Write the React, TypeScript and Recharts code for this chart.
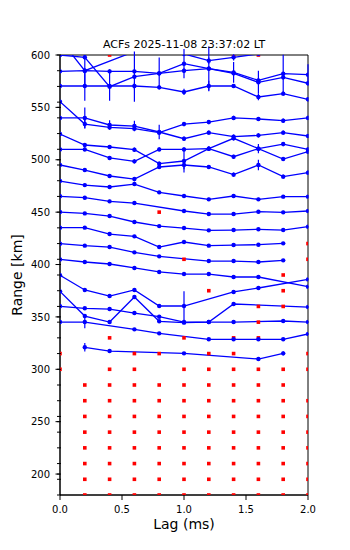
import React from 'react';
import { ComposedChart, Line, Scatter, XAxis, YAxis, ErrorBar, ReferenceArea } from 'recharts';

// ---------- data ----------
const lags = [0, 0.2, 0.4, 0.6, 0.8, 1.0, 1.2, 1.4, 1.6, 1.8, 2.0];
const xTicks = [0, 0.5, 1.0, 1.5, 2.0];
const yMajorTicks = [200, 250, 300, 350, 400, 450, 500, 550, 600];
const gates = [180, 195, 210, 225, 240, 255, 270, 285, 300, 315, 330, 345, 360, 375, 390, 405, 420, 435, 450, 465, 480, 495, 510, 525, 540, 555, 570, 585, 600];

// ACF curves drawn as range offsets (km), one per range gate
const acf600 = [615, 585.0, null, 603.3, 612, 601, 594.6, 597.8, 601, 605, 604];
const acf585 = [600, 597.8, 569.8, 579.3, 582.5, 591.7, 587.0, 583.4, 575.8, 582.2, 581.2];
const acf570 = [584.4, 585.0, 584.4, 584.4, 582.5, 585.0, 587.0, 582.5, 573.9, 578.7, 573.0];
const acf555 = [570.4, 570.4, 570.4, 570.4, 569.1, 564.7, 570.4, 570.4, 559.9, 563.1, 557.7];
const acf540 = [555.4, 534.1, 530.9, 529.7, 525.9, 534.1, 536.0, 539.9, 538.9, 537.3, 539.9];
const acf525 = [539.9, 539.9, 533.2, 532.2, 526.5, 520.1, 525.9, 522.0, 523.3, 525.9, 522.7];
const acf510 = [524.6, 514.1, 512.2, 509.6, 496.3, 498.8, 510.6, 520.5, 510.6, 515.0, 509.9];
const acf495 = [509.9, 509.9, 501.7, 498.5, 509.9, 509.9, 510.6, 502.9, 510.6, 500.7, 507.7];
const acf480 = [495.0, 490.2, 484.5, 481.6, 493.1, 495.0, 493.1, 485.8, 495.0, 483.9, 487.7];
const acf465 = [479.7, 475.8, 474.0, 476.8, 468.9, 465.4, 462.2, 465.4, 462.2, 464.8, 464.8];
const acf450 = [465.1, 463.8, 460.3, 458.7, null, 451.1, 448.2, 448.2, 450.4, 449.8, 451.1];
const acf435 = [450.1, 448.8, 446.3, 440.6, 436.7, 434.8, 432.6, 432.9, 433.6, 432.9, 436.1];
const acf420 = [435.2, 435.2, 429.1, 426.9, 416.7, 421.5, 418.0, 418.6, 418.9, 420.2, null];
const acf405 = [419.9, 418.0, 416.7, 411.6, 407.8, null, 403.3, 403.3, 402.4, 404.0, null];
const acf390 = [404.9, 402.4, 400.5, 396.7, 392.9, 390.9, 390.9, 388.1, 388.1, null, 378.8];
const acf375 = [389.7, 375.7, 369.9, 375.7, 360.4, 360.4, null, 373.8, 377.6, null, 385.8];
const acf360 = [374.4, 350.8, 345.1, 369.0, 345.8, 344.5, 345.1, 362.3, null, null, 359.4];
const acf345 = [360.1, 358.2, 357.5, 353.7, 350.2, 345.1, 345.1, 345.1, null, 346.1, 345.1];
const acf330 = [345.1, 345.1, null, 338.1, 334.3, null, 328.6, 328.6, 328.6, 328.6, 333.7];
const acf315 = [null, 321.0, 317.4, null, null, 315.2, null, null, 309.8, 315.2, null];

// error bars (km, +/-)
const err600 = [0, 15, 0, 0, 0, 0, 3, 3, 0, 0, 0];
const err585 = [0, 2, 2, 24, 15, 14, 2, 10, 2, 18, 10];
const err570 = [0, 2, 2, 2, 2, 2, 21, 2, 11, 2, 2];
const err555 = [0, 14, 14, 3, 2, 3, 5, 2, 3, 2, 2];
const err540 = [0, 4, 2, 2, 2, 2, 2, 2, 2, 2, 2];
const err525 = [0, 10, 4.5, 5, 7, 2, 2, 2, 2, 2, 2];
const err510 = [0, 2, 2, 2, 2, 11, 2, 2, 4.5, 2, 2];
const err495 = [0, 2, 2, 2, 2, 2, 2, 2, 2, 2, 2];
const err480 = [0, 2, 2, 2, 2, 4, 2, 2, 5, 2, 2];
const err465 = [0, 1.5, 1.5, 1.5, 1.5, 1.5, 1.5, 1.5, 1.5, 1.5, 1.5];
const err450 = [0, 1.5, 1.5, 1.5, 0, 1.5, 1.5, 1.5, 1.5, 1.5, 1.5];
const err435 = [0, 1, 1, 1, 1, 1, 1, 1, 1, 1, 1];
const err420 = [0, 1, 1, 1, 1, 1, 1, 1, 1, 1, 0];
const err405 = [0, 1, 1, 1, 1, 0, 1, 1, 1, 1, 0];
const err390 = [0, 1, 1, 1, 1, 1, 1, 1, 1, 0, 1];
const err375 = [0, 1, 1, 1, 1, 14, 0, 1, 1, 0, 1];
const err360 = [0, 1, 1, 2, 1, 1, 1, 1, 0, 0, 1];
const err345 = [0, 1, 1, 1, 1, 1, 1, 1, 0, 1, 1];
const err330 = [0, 6, 0, 1, 1, 0, 1, 1, 1, 1, 1];
const err315 = [0, 4, 1, 0, 0, 1, 0, 0, 1, 2, 0];

// noise-level (rejected) points, drawn at the gate range: lags per gate
const noise600 = [0.4, 1.4, 1.6];
const noise450 = [0.8];
const noise420 = [2.0];
const noise405 = [1.0, 2.0];
const noise390 = [1.8];
const noise375 = [1.2, 1.8];
const noise360 = [1.6, 1.8];
const noise345 = [1.6];
const noise330 = [0.4, 1.0, 1.4, 1.6];
const noise315 = [0, 0.6, 0.8, 1.2, 1.4, 2.0];
const noise300 = [0, 0.4, 0.6, 1.0, 1.2, 1.4, 1.6, 1.8, 2.0];
const noise285 = [0.2, 0.4, 0.6, 0.8, 1.0, 1.2, 1.4, 1.6, 1.8];
const noise270 = [0.2, 0.4, 0.6, 0.8, 1.0, 1.2, 1.4, 1.6, 1.8, 2.0];
const noise255 = [0.2, 0.4, 0.6, 0.8, 1.0, 1.2, 1.4, 1.6, 1.8, 2.0];
const noise240 = [0.2, 0.4, 0.6, 0.8, 1.0, 1.2, 1.4, 1.6, 1.8, 2.0];
const noise225 = [0.2, 0.4, 0.6, 0.8, 1.0, 1.2, 1.4, 1.6, 1.8, 2.0];
const noise210 = [0.2, 0.4, 0.6, 0.8, 1.0, 1.2, 1.4, 1.6, 1.8, 2.0];
const noise195 = [0.2, 0.4, 0.6, 0.8, 1.0, 1.2, 1.4, 1.6, 1.8, 2.0];
const noise180 = [0.2, 0.4, 0.6, 0.8, 1.0, 1.2, 1.4, 1.6, 1.8, 2.0];

// ---------- assembly ----------
const series = [
  { gate: 600, acf: acf600, err: err600 },
  { gate: 585, acf: acf585, err: err585 },
  { gate: 570, acf: acf570, err: err570 },
  { gate: 555, acf: acf555, err: err555 },
  { gate: 540, acf: acf540, err: err540 },
  { gate: 525, acf: acf525, err: err525 },
  { gate: 510, acf: acf510, err: err510 },
  { gate: 495, acf: acf495, err: err495 },
  { gate: 480, acf: acf480, err: err480 },
  { gate: 465, acf: acf465, err: err465 },
  { gate: 450, acf: acf450, err: err450 },
  { gate: 435, acf: acf435, err: err435 },
  { gate: 420, acf: acf420, err: err420 },
  { gate: 405, acf: acf405, err: err405 },
  { gate: 390, acf: acf390, err: err390 },
  { gate: 375, acf: acf375, err: err375 },
  { gate: 360, acf: acf360, err: err360 },
  { gate: 345, acf: acf345, err: err345 },
  { gate: 330, acf: acf330, err: err330 },
  { gate: 315, acf: acf315, err: err315 },
];

const rows = lags.map((lag, i) => {
  const row: Record<string, number | null> = { lag };
  series.forEach((s) => {
    const v = s.acf[i];
    row[`v${s.gate}`] = v;
    row[`e${s.gate}`] = v == null ? null : s.err[i];
  });
  return row;
});

const noiseByGate: [number, number[]][] = [
  [600, noise600], [450, noise450], [420, noise420], [405, noise405], [390, noise390],
  [375, noise375], [360, noise360], [345, noise345], [330, noise330], [315, noise315],
  [300, noise300], [285, noise285], [270, noise270], [255, noise255], [240, noise240],
  [225, noise225], [210, noise210], [195, noise195], [180, noise180],
];
const noisePoints = noiseByGate.flatMap(([gate, ls]) => ls.map((lag) => ({ lag, range: gate })));

const yTicks = Array.from(new Set([...gates, ...yMajorTicks])).sort((a, b) => a - b);

// ---------- styling ----------
const FONT = '"DejaVu Sans", sans-serif';
const BLUE = '#0000ff';
const RED = '#ff0000';
const Y_TICK_SIZE = 4;
const Y_TICK_MARGIN = 6;

function YTick(props: any) {
  const { x, y, payload } = props;
  const axisX = x + Y_TICK_SIZE + Y_TICK_MARGIN;
  const major = yMajorTicks.includes(payload.value);
  return (
    <g>
      <line x1={axisX - 3} x2={axisX + 1} y1={y} y2={y} stroke="#000" strokeWidth={1} />
      {major && <line x1={axisX - 4.5} x2={axisX} y1={y} y2={y} stroke="#000" strokeWidth={1} />}
      {major && (
        <text x={x} y={y} dy="0.36em" textAnchor="end" fontSize={10} fontFamily={FONT} fill="#000">
          {payload.value}
        </text>
      )}
    </g>
  );
}

function XLabel(props: any) {
  const vb = props.viewBox;
  return (
    <text x={vb.x + vb.width / 2} y={vb.y + 34} textAnchor="middle" fontSize={14} fontFamily={FONT} fill="#000">
      Lag (ms)
    </text>
  );
}

function YLabel(props: any) {
  const vb = props.viewBox;
  const cx = vb.x + 14;
  const cy = vb.y + vb.height / 2;
  return (
    <text x={cx} y={cy} transform={`rotate(-90, ${cx}, ${cy})`} textAnchor="middle" fontSize={14} fontFamily={FONT} fill="#000">
      Range [km]
    </text>
  );
}

function NoiseSquare(props: any) {
  const { cx, cy } = props;
  if (cx == null || cy == null) return null;
  return <rect x={cx - 1.8} y={cy - 1.8} width={3.6} height={3.6} fill={RED} />;
}

export default function App() {
  return (
    <div style={{ position: 'relative', width: 342, height: 542, fontFamily: FONT }}>
      <ComposedChart
        width={342}
        height={542}
        data={rows}
        margin={{ top: 47, right: 42, bottom: 10, left: 0 }}
      >
        <XAxis
          type="number"
          dataKey="lag"
          domain={[0, 2]}
          ticks={xTicks}
          allowDataOverflow
          interval={0}
          height={45}
          tickSize={5}
          tickMargin={6}
          tickFormatter={(v: number) => v.toFixed(1)}
          tick={{ fill: '#000', fontSize: 10, fontFamily: FONT }}
          tickLine={{ stroke: '#000' }}
          axisLine={{ stroke: '#000' }}
          label={XLabel}
        />
        <YAxis
          type="number"
          domain={[180, 600]}
          ticks={yTicks}
          allowDataOverflow
          interval={0}
          width={52}
          tickSize={Y_TICK_SIZE}
          tickMargin={Y_TICK_MARGIN}
          tickLine={false}
          tick={(p: any) => <YTick {...p} />}
          axisLine={{ stroke: '#000' }}
          label={YLabel}
        />
        <ReferenceArea x1={0} x2={2} y1={180} y2={600} fill="none" stroke="#000" strokeWidth={1} fillOpacity={0} />
        <Scatter data={noisePoints} dataKey="range" shape={NoiseSquare} isAnimationActive={false} />
        {series.map((s) => (
          <Line
            key={s.gate}
            type="linear"
            dataKey={`v${s.gate}`}
            stroke={BLUE}
            strokeWidth={1.3}
            dot={{ r: 2.2, fill: BLUE, stroke: BLUE, strokeWidth: 0 }}
            activeDot={false}
            connectNulls
            isAnimationActive={false}
          >
            <ErrorBar dataKey={`e${s.gate}`} width={0} stroke={BLUE} strokeWidth={1.2} direction="y" />
          </Line>
        ))}
      </ComposedChart>
      <div
        style={{
          position: 'absolute',
          left: 52,
          top: 30,
          width: 248,
          textAlign: 'center',
          fontSize: 11,
          lineHeight: '13px',
          color: '#000',
          whiteSpace: 'nowrap',
        }}
      >
        ACFs 2025-11-08 23:37:02 LT
      </div>
    </div>
  );
}
